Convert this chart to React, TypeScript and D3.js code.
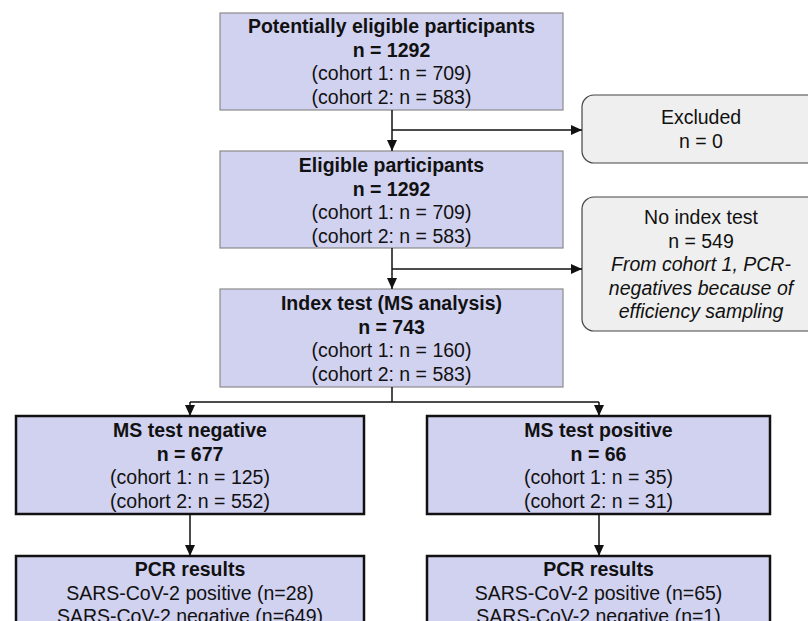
import { line } from "d3";

// flowchart text, one array per box
const potentialLines = ["Potentially eligible participants", "n = 1292", "(cohort 1: n = 709)", "(cohort 2: n = 583)"];
const eligibleLines = ["Eligible participants", "n = 1292", "(cohort 1: n = 709)", "(cohort 2: n = 583)"];
const indexLines = ["Index test (MS analysis)", "n = 743", "(cohort 1: n = 160)", "(cohort 2: n = 583)"];
const negLines = ["MS test negative", "n = 677", "(cohort 1: n = 125)", "(cohort 2: n = 552)"];
const posLines = ["MS test positive", "n = 66", "(cohort 1: n = 35)", "(cohort 2: n = 31)"];
const pcrNegLines = ["PCR results", "SARS-CoV-2 positive (n=28)", "SARS-CoV-2 negative (n=649)"];
const pcrPosLines = ["PCR results", "SARS-CoV-2 positive (n=65)", "SARS-CoV-2 negative (n=1)"];
const excludedLines = ["Excluded", "n = 0"];
const noIndexLines = ["No index test", "n = 549", "From cohort 1, PCR-", "negatives because of", "efficiency sampling"];

type Box = {
  x0: number; x1: number; y0: number; y1: number;
  lines: string[];
  bold: number; // how many leading lines are bold
  italicFrom?: number;
  kind: "top" | "bottom" | "side";
  firstY: number;
};

const FONT = "'Liberation Sans', Arial, sans-serif";
const FS = 19.5;
const LH = 23.5;

const boxes: Box[] = [
  { x0: 220, x1: 563, y0: 13, y1: 110, lines: potentialLines, bold: 2, kind: "top", firstY: 26 },
  { x0: 220, x1: 563, y0: 151, y1: 248, lines: eligibleLines, bold: 2, kind: "top", firstY: 165 },
  { x0: 220, x1: 563, y0: 289, y1: 387, lines: indexLines, bold: 2, kind: "top", firstY: 303 },
  { x0: 16, x1: 364, y0: 416, y1: 514, lines: negLines, bold: 2, kind: "bottom", firstY: 430 },
  { x0: 427, x1: 770, y0: 416, y1: 514, lines: posLines, bold: 2, kind: "bottom", firstY: 430 },
  { x0: 16, x1: 364, y0: 556, y1: 660, lines: pcrNegLines, bold: 1, kind: "bottom", firstY: 569 },
  { x0: 427, x1: 770, y0: 556, y1: 660, lines: pcrPosLines, bold: 1, kind: "bottom", firstY: 569 },
  { x0: 582, x1: 822, y0: 95, y1: 163, lines: excludedLines, bold: 0, kind: "side", firstY: 117 },
  { x0: 582, x1: 822, y0: 197, y1: 331, lines: noIndexLines, bold: 0, italicFrom: 2, kind: "side", firstY: 217 },
];

const cx = 392;
const negX = 190;
const posX = 599;

// connector paths; last point of arrowed ones gets a head
const connectors: { pts: [number, number][]; arrow: boolean }[] = [
  { pts: [[cx, 110], [cx, 151]], arrow: true },
  { pts: [[cx, 130], [582, 130]], arrow: true },
  { pts: [[cx, 248], [cx, 289]], arrow: true },
  { pts: [[cx, 269], [582, 269]], arrow: true },
  { pts: [[cx, 387], [cx, 402]], arrow: false },
  { pts: [[negX, 402], [posX, 402]], arrow: false },
  { pts: [[negX, 402], [negX, 416]], arrow: true },
  { pts: [[posX, 402], [posX, 416]], arrow: true },
  { pts: [[negX, 514], [negX, 556]], arrow: true },
  { pts: [[posX, 514], [posX, 556]], arrow: true },
];

const pathGen = line<[number, number]>();

function arrowHead(pts: [number, number][]) {
  const [x1, y1] = pts[pts.length - 1];
  const [x0, y0] = pts[pts.length - 2];
  const a = Math.atan2(y1 - y0, x1 - x0);
  const L = 11, W = 5;
  const bx = x1 - L * Math.cos(a), by = y1 - L * Math.sin(a);
  const p: [number, number][] = [
    [x1, y1],
    [bx + W * Math.sin(a), by - W * Math.cos(a)],
    [bx - W * Math.sin(a), by + W * Math.cos(a)],
  ];
  return pathGen(p) + "Z";
}

export default function App() {
  return (
    <svg width={808} height={621} style={{ position: "absolute", left: 0, top: 0, background: "#fff" }}>
      {boxes.map((b, i) => {
        const mid = (b.x0 + b.x1) / 2;
        const textX = b.kind === "side" ? 701 : mid;
        return (
          <g key={i}>
            <rect
              x={b.x0}
              y={b.y0}
              width={b.x1 - b.x0}
              height={b.y1 - b.y0}
              rx={b.kind === "side" ? 12 : 0}
              fill={b.kind === "side" ? "#efefef" : "#d1d1f0"}
              stroke={b.kind === "bottom" ? "#111" : b.kind === "side" ? "#444" : "#8a8a8a"}
              strokeWidth={b.kind === "bottom" ? 2.5 : 1.2}
            />
            {b.lines.map((t, j) => (
              <text
                key={j}
                x={textX}
                y={b.firstY + j * LH}
                dy="0.36em"
                textAnchor="middle"
                fontFamily={FONT}
                fontSize={FS}
                fontWeight={j < b.bold ? "bold" : "normal"}
                fontStyle={b.italicFrom !== undefined && j >= b.italicFrom ? "italic" : "normal"}
                fill="#111"
              >
                {t}
              </text>
            ))}
          </g>
        );
      })}
      {connectors.map((c, i) => (
        <g key={i}>
          <path d={pathGen(c.pts) ?? ""} stroke="#111" strokeWidth={1.5} fill="none" />
          {c.arrow && <path d={arrowHead(c.pts)} fill="#111" />}
        </g>
      ))}
    </svg>
  );
}
